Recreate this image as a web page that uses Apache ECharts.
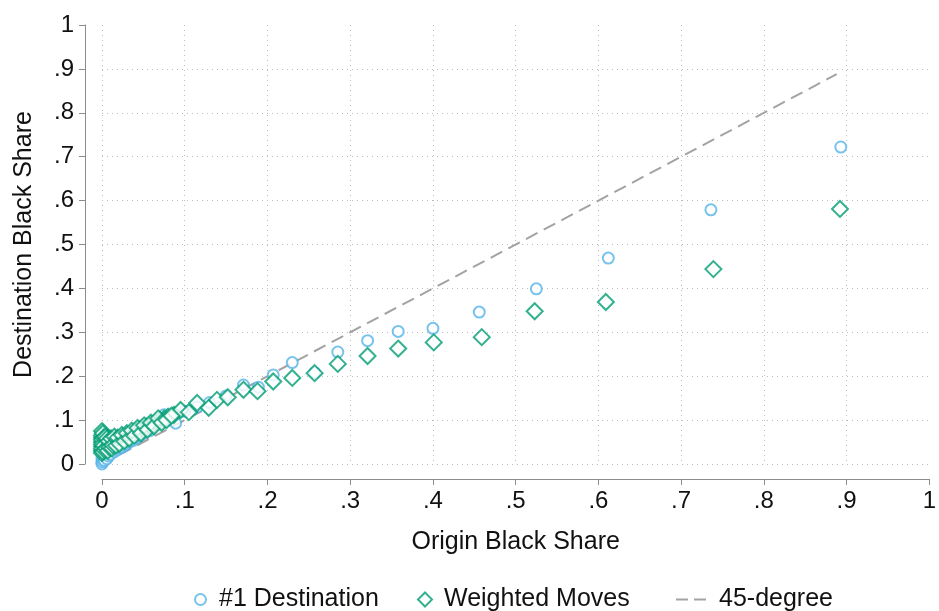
<!DOCTYPE html>
<html>
<head>
<meta charset="utf-8">
<script src="https://cdn.jsdelivr.net/npm/echarts@6/dist/echarts.min.js"></script>
<style>
html,body{margin:0;padding:0;background:#fff;}
#chart{width:939px;height:611px;}
</style>
</head>
<body>
<div id="chart"></div>
<script>
// ---- Data (origin black share, destination black share) ----
const destX = [0,0,0.001,0.002,0.003,0.004,0.005,0.006,0.008,0.010,0.012,0.014,0.016,0.019,0.022,0.025,0.028,0.031,0.034,0.037,0.040,0.044,0.048,0.052,0.056,0.060,0.065,0.070,0.075,0.082,0.089,0.100,0.115,0.130,0.150,0.171,0.189,0.207,0.230,0.257,0.285,0.321,0.358,0.400,0.456,0.525,0.612,0.736,0.893,
  0,0,0.001,0.002,0.003,0.004,0.006,0.008,0.010,0.012,0.015,0.018,0.021,0.024,0.027,0.030,0.033,0.038,0.042,0.046,0.050,0.058];
const destY = [0.003,0.008,0.012,0.018,0.022,0.015,0.025,0.020,0.028,0.030,0.026,0.034,0.036,0.040,0.042,0.045,0.050,0.052,0.058,0.060,0.063,0.068,0.072,0.076,0.080,0.085,0.090,0.100,0.112,0.100,0.093,0.120,0.130,0.140,0.155,0.180,0.175,0.203,0.231,0.208,0.255,0.281,0.302,0.309,0.346,0.399,0.469,0.579,0.722,
  0.000,0.015,0.005,0.010,0.008,0.030,0.012,0.018,0.022,0.038,0.028,0.032,0.036,0.038,0.042,0.046,0.050,0.054,0.060,0.064,0.070,0.076];

const wX = [0,0,0,0,0,0.001,0.002,0.003,0.004,0.005,0.006,0.008,0.010,0.012,0.014,0.016,0.018,0.020,0.023,0.026,0.029,0.032,0.035,0.038,0.041,0.045,0.049,0.053,0.057,0.061,0.065,0.070,0.075,0.080,0.087,0.095,0.105,0.115,0.129,0.139,0.152,0.171,0.188,0.207,0.230,0.257,0.285,0.321,0.358,0.401,0.459,0.523,0.609,0.739,0.892,
  0,0,0,0,0,0.001,0.001,0.002,0.002,0.003,0.004,0.005,0.006,0.007,0.008,0.009,0.011,0.012,0.013,0.015,0.017,0.019,0.021,0.024,0.027,0.030,0.033,0.036,0.039,0.043,0.047,0.051,0.055,0.059,0.063,0.068,0.072,0.078,0.084];
const wY = [0.075,0.060,0.050,0.040,0.030,0.045,0.035,0.055,0.040,0.050,0.045,0.040,0.050,0.045,0.050,0.055,0.050,0.055,0.058,0.060,0.063,0.066,0.070,0.072,0.075,0.078,0.082,0.085,0.088,0.090,0.095,0.100,0.103,0.108,0.112,0.123,0.118,0.139,0.128,0.146,0.152,0.169,0.166,0.188,0.196,0.207,0.228,0.246,0.263,0.277,0.289,0.348,0.369,0.444,0.581,
  0.065,0.055,0.045,0.035,0.025,0.070,0.028,0.060,0.042,0.032,0.062,0.036,0.058,0.030,0.052,0.038,0.058,0.036,0.043,0.062,0.042,0.060,0.046,0.066,0.052,0.070,0.058,0.076,0.064,0.082,0.070,0.088,0.078,0.094,0.086,0.104,0.094,0.100,0.110];

const lineX = [0, 0.888];
const lineY = [0, 0.888];

const seriesNames = ['#1 Destination', 'Weighted Moves', '45-degree'];

const zip = (a, b) => a.map((v, i) => [v, b[i]]);
const fmt = v => {
  const r = Math.round(v * 10) / 10;
  if (r === 0) return '0';
  if (r === 1) return '1';
  return r.toFixed(1).replace(/^0/, '');
};

const BLUE = '#56B4E9', GREEN = '#009E73', GRAY = '#a3a3a3';
const FONT = 'Liberation Sans, Arial, sans-serif';

const chart = echarts.init(document.getElementById('chart'), null, {renderer: 'canvas'});

const axisCommon = {
  type: 'value', min: 0, max: 1, interval: 0.1,
  axisLine: {show: true, onZero: false, lineStyle: {color: '#8c8c8c', width: 1}},
  axisTick: {show: true, length: 6, lineStyle: {color: '#8c8c8c'}},
  splitLine: {show: true, showMaxLine: false, lineStyle: {color: '#bdbdbd', type: [1, 4], width: 1}},
  axisLabel: {formatter: fmt, color: '#111', fontSize: 24, fontFamily: FONT},
  nameLocation: 'middle',
  nameTextStyle: {color: '#111', fontSize: 25, fontFamily: FONT}
};

const legendText = pad => ({fontSize: 25, color: '#111', fontFamily: FONT, padding: [0, 0, 0, pad]});

chart.setOption({
  animation: false,
  backgroundColor: '#fff',
  grid: {left: 102, right: 6, top: 25, bottom: 147, containLabel: false},
  xAxis: Object.assign({}, axisCommon, {
    name: 'Origin Black Share', nameGap: 51, offset: 15,
    axisLabel: Object.assign({}, axisCommon.axisLabel, {margin: 10})
  }),
  yAxis: Object.assign({}, axisCommon, {
    name: 'Destination Black Share', nameGap: 48, offset: 17,
    axisLabel: Object.assign({}, axisCommon.axisLabel, {margin: 11})
  }),
  legend: [
    {data: [{name: seriesNames[0], icon: 'emptyCircle'}], left: 189, top: 582, itemWidth: 11, itemHeight: 11, itemGap: 0,
     textStyle: legendText(8)},
    {data: [{name: seriesNames[1], icon: 'emptyDiamond'}], left: 412, top: 582, itemWidth: 14, itemHeight: 14, itemGap: 0,
     textStyle: legendText(7)},
    {data: [{name: seriesNames[2], icon: 'path://M0,0h12v2h-12z M18,0h12v2h-12z'}], left: 671, top: 582, itemWidth: 30, itemHeight: 2, itemGap: 0,
     textStyle: legendText(8)}
  ],
  series: [
    {
      name: seriesNames[2], type: 'line', data: zip(lineX, lineY), symbol: 'none', z: 1,
      lineStyle: {color: GRAY, width: 2, type: [13, 7]}, itemStyle: {color: GRAY}
    },
    {
      name: seriesNames[0], type: 'scatter', data: zip(destX, destY), symbol: 'emptyCircle', symbolSize: 11, z: 2,
      itemStyle: {color: BLUE, borderColor: BLUE, borderWidth: 2.2}
    },
    {
      name: seriesNames[1], type: 'scatter', data: zip(wX, wY), symbol: 'emptyDiamond', symbolSize: 16, z: 3,
      itemStyle: {color: GREEN, borderColor: GREEN, borderWidth: 2.4}
    }
  ]
});
</script>
</body>
</html>
